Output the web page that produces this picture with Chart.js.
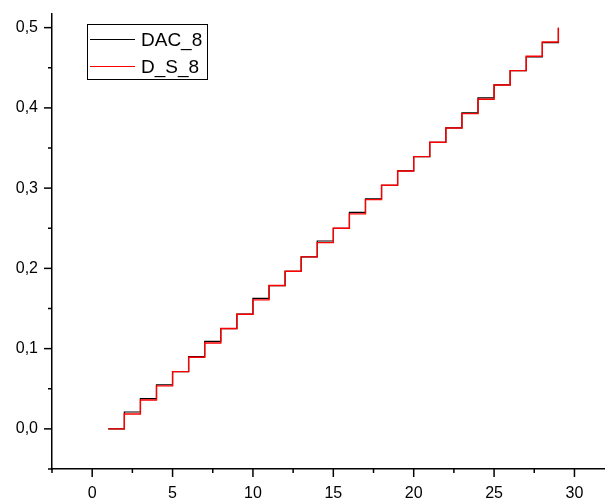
<!DOCTYPE html>
<html>
<head>
<meta charset="utf-8">
<script src="https://cdn.jsdelivr.net/npm/chart.js@4/dist/chart.umd.min.js"></script>
<style>
  html, body { margin: 0; padding: 0; background: #fff; }
  canvas { display: block; }
</style>
</head>
<body>
<canvas id="c" width="605" height="500"></canvas>
<script>
// ---- data ----
const xValues = [1, 2, 3, 4, 5, 6, 7, 8, 9, 10, 11, 12, 13, 14, 15, 16, 17, 18, 19, 20, 21, 22, 23, 24, 25, 26, 27, 28, 29];
const dac8 = [0.000, 0.021, 0.0377, 0.055, 0.0714, 0.090, 0.109, 0.125, 0.1429, 0.1627, 0.1786, 0.1964, 0.2143, 0.2341, 0.250, 0.2697, 0.2865, 0.3036, 0.3214, 0.3393, 0.3571, 0.375, 0.3937, 0.4125, 0.4286, 0.4464, 0.4635, 0.4813, 0.500];
const ds8  = [0.000, 0.0185, 0.0359, 0.0536, 0.0714, 0.0893, 0.1071, 0.125, 0.1429, 0.1607, 0.1786, 0.1964, 0.2143, 0.2321, 0.250, 0.2679, 0.2857, 0.3036, 0.3214, 0.3393, 0.3571, 0.375, 0.3929, 0.4107, 0.4286, 0.4464, 0.4643, 0.4821, 0.500];
const seriesNames = ['DAC_8', 'D_S_8'];
const seriesColors = ['#000000', '#ff0000'];
const xTickStep = 2.5, xLabelStep = 5;
const yTickStep = 0.05, yLabelStep = 0.1;

const FONT = '"Liberation Sans", Arial, sans-serif';

function isMult(v, s) { const q = v / s; return Math.abs(q - Math.round(q)) < 1e-6; }

const ticksPlugin = {
  id: 'originTicks',
  afterDraw(chart) {
    const ctx = chart.ctx;
    const ca = chart.chartArea;
    ctx.save();
    ctx.strokeStyle = '#000';
    ctx.lineWidth = 1.5;
    const xs = chart.scales.x, ys = chart.scales.y;
    xs.ticks.forEach(t => {
      if (!isMult(t.value, xTickStep)) return;
      const px = xs.getPixelForValue(t.value);
      const len = isMult(t.value, xLabelStep) ? 8 : 4;
      ctx.beginPath(); ctx.moveTo(px, ca.bottom); ctx.lineTo(px, ca.bottom + len); ctx.stroke();
    });
    ys.ticks.forEach(t => {
      if (!isMult(t.value, yTickStep)) return;
      const py = ys.getPixelForValue(t.value);
      const len = isMult(t.value, yLabelStep) ? 8 : 4;
      ctx.beginPath(); ctx.moveTo(ca.left, py); ctx.lineTo(ca.left - len, py); ctx.stroke();
    });
    ctx.restore();
  }
};

const legendPlugin = {
  id: 'boxLegend',
  afterDraw(chart) {
    const ctx = chart.ctx;
    ctx.save();
    const bx = 87.5, by = 24.5, bw = 120, bh = 55;
    ctx.strokeStyle = '#000'; ctx.lineWidth = 1;
    ctx.strokeRect(bx, by, bw, bh);
    ctx.font = '19px ' + FONT;
    ctx.textBaseline = 'middle';
    ctx.fillStyle = '#000';
    chart.data.datasets.forEach((ds, i) => {
      const y = 39.5 + i * 27;
      ctx.strokeStyle = ds.borderColor; ctx.lineWidth = 1;
      ctx.beginPath(); ctx.moveTo(90, y); ctx.lineTo(135, y); ctx.stroke();
      ctx.fillText(ds.label, 141, y + 1);
    });
    ctx.restore();
  }
};

new Chart(document.getElementById('c'), {
  type: 'line',
  data: {
    datasets: [
      { label: seriesNames[0], data: xValues.map((x, i) => ({ x, y: dac8[i] })), borderColor: seriesColors[0], borderWidth: 1.2, stepped: 'before', pointRadius: 0, order: 1, fill: false },
      { label: seriesNames[1], data: xValues.map((x, i) => ({ x, y: ds8[i] })), borderColor: seriesColors[1], borderWidth: 1.4, stepped: 'before', pointRadius: 0, order: 0, fill: false }
    ]
  },
  options: {
    responsive: false,
    animation: false,
    devicePixelRatio: 1,
    layout: { padding: { top: 14, right: 0, left: 0, bottom: 0 } },
    plugins: { legend: { display: false }, tooltip: { enabled: false } },
    scales: {
      x: {
        type: 'linear', min: -2.5, max: 31.9,
        afterFit: s => { s.height = 31; s.paddingLeft = 0; s.paddingRight = 0; },
        grid: { drawOnChartArea: false, drawTicks: false },
        border: { display: true, color: '#000', width: 1.5 },
        ticks: {
          stepSize: xTickStep, autoSkip: false, maxRotation: 0, padding: 15, includeBounds: false,
          color: '#000', font: { family: FONT, size: 16 },
          callback: v => isMult(v, xLabelStep) ? String(Math.round(v)) : ''
        }
      },
      y: {
        type: 'linear', min: -0.05, max: 0.517,
        afterFit: s => { s.width = 52; s.paddingTop = 0; s.paddingBottom = 0; },
        grid: { drawOnChartArea: false, drawTicks: false },
        border: { display: true, color: '#000', width: 1.5 },
        ticks: {
          stepSize: yTickStep, autoSkip: false, padding: 14, includeBounds: false,
          color: '#000', font: { family: FONT, size: 16 },
          callback: v => isMult(v, yLabelStep) ? (Math.abs(v) < 1e-9 ? 0 : v).toFixed(1).replace('.', ',') : ''
        }
      }
    }
  },
  plugins: [ticksPlugin, legendPlugin]
});
</script>
</body>
</html>
